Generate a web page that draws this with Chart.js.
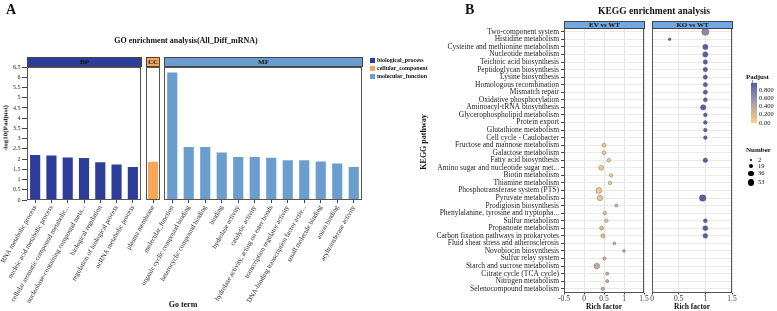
<!DOCTYPE html>
<html>
<head>
<meta charset="utf-8">
<script src="https://cdn.jsdelivr.net/npm/chart.js@4.4.0/dist/chart.umd.min.js"></script>
<style>
body{margin:0;background:#fff;}
#fig{position:relative;width:777px;height:311px;overflow:hidden;font-family:"Liberation Serif",serif;color:#111;background:#fff;}
#fig canvas{position:absolute;left:0;top:0;}
.t{position:absolute;white-space:nowrap;font-weight:bold;line-height:1;}
.c{transform:translate(-50%,-50%);}
.strip{position:absolute;box-sizing:border-box;border:1px solid #444;font-weight:bold;text-align:center;color:#111;}
.sw{position:absolute;width:5px;height:5px;}
.lg{position:absolute;white-space:nowrap;font-size:6px;font-weight:bold;line-height:1;transform:translateY(-50%);}
</style>
</head>
<body>
<div id="fig">
  <canvas id="bp" width="777" height="311"></canvas>
  <canvas id="cc" width="777" height="311"></canvas>
  <canvas id="mf" width="777" height="311"></canvas>
  <canvas id="ev" width="777" height="311"></canvas>
  <canvas id="ko" width="777" height="311"></canvas>

  <div class="t" style="left:6px;top:3px;font-size:14px;">A</div>
  <div class="t c" style="left:186px;top:41px;font-size:8px;">GO enrichment analysis(All_Diff_mRNA)</div>
  <div class="strip" style="left:27px;top:57px;width:115px;height:10px;background:#2D3E9A;font-size:7px;line-height:8px;">BP</div>
  <div class="strip" style="left:146px;top:57px;width:14px;height:10px;background:#F9A65A;font-size:7px;line-height:8px;">CC</div>
  <div class="strip" style="left:164px;top:57px;width:199px;height:10px;background:#6B9ECF;font-size:7px;line-height:8px;">MF</div>
  <div class="sw" style="left:370px;top:57.5px;background:#2D3E9A;"></div>
  <div class="sw" style="left:370px;top:65.5px;background:#F9A65A;"></div>
  <div class="sw" style="left:370px;top:73.5px;background:#6B9ECF;"></div>
  <div class="lg" style="left:377px;top:60px;">biological_process</div>
  <div class="lg" style="left:377px;top:68px;">cellular_component</div>
  <div class="lg" style="left:377px;top:76px;">molecular_function</div>
  <div class="t" style="left:5.5px;top:128px;font-size:7px;transform:translate(-50%,-50%) rotate(-90deg);">-log10(Padjust)</div>
  <div class="t c" style="left:183px;top:305px;font-size:8px;">Go term</div>

  <div class="t" style="left:465px;top:3px;font-size:14px;">B</div>
  <div class="t c" style="left:654px;top:12px;font-size:9.5px;">KEGG enrichment analysis</div>
  <div class="strip" style="left:564px;top:21px;width:81px;height:8px;background:#72A9E3;font-size:7px;line-height:6px;">EV vs WT</div>
  <div class="strip" style="left:652px;top:21px;width:81px;height:8px;background:#72A9E3;font-size:7px;line-height:6px;">KO vs WT</div>
  <div class="t" style="left:424px;top:142px;font-size:8px;transform:translate(-50%,-50%) rotate(-90deg);">KEGG pathway</div>
  <div class="t c" style="left:604px;top:307px;font-size:7.5px;">Rich factor</div>
  <div class="t c" style="left:692px;top:307px;font-size:7.5px;">Rich factor</div>
  <div id="padjLegend"></div>
  <div id="numLegend"></div>
</div>
<script>
// GO enrichment (-log10 Padjust)
const bpTerms = ['RNA metabolic process', 'nucleic acid metabolic process', 'cellular aromatic compound metabolic...',
  'nucleobase-containing compound meta...', 'biological regulation', 'regulation of biological process', 'ncRNA metabolic process'];
const bpValues = [2.23, 2.21, 2.11, 2.09, 1.88, 1.77, 1.64];
const ccTerms = ['plasma membrane'];
const ccValues = [1.9];
const mfTerms = ['molecular_function', 'organic cyclic compound binding', 'heterocyclic compound binding', 'binding',
  'hydrolase activity', 'catalytic activity', 'hydrolase activity, acting on ester bonds', 'transcription regulator activity',
  'DNA-binding transcription factor activ...', 'small molecule binding', 'anion binding', 'acyltransferase activity'];
const mfValues = [6.27, 2.62, 2.62, 2.35, 2.14, 2.13, 2.1, 1.97, 1.97, 1.91, 1.82, 1.65];

// KEGG enrichment
const pathways = ['Two-component system', 'Histidine metabolism', 'Cysteine and methionine metabolism', 'Nucleotide metabolism',
  'Teichoic acid biosynthesis', 'Peptidoglycan biosynthesis', 'Lysine biosynthesis', 'Homologous recombination',
  'Mismatch repair', 'Oxidative phosphorylation', 'Aminoacyl-tRNA biosynthesis', 'Glycerophospholipid metabolism',
  'Protein export', 'Glutathione metabolism', 'Cell cycle - Caulobacter', 'Fructose and mannose metabolism',
  'Galactose metabolism', 'Fatty acid biosynthesis', 'Amino sugar and nucleotide sugar met...', 'Biotin metabolism',
  'Thiamine metabolism', 'Phosphotransferase system (PTS)', 'Pyruvate metabolism', 'Prodigiosin biosynthesis',
  'Phenylalanine, tyrosine and tryptopha...', 'Sulfur metabolism', 'Propanoate metabolism',
  'Carbon fixation pathways in prokaryotes', 'Fluid shear stress and atherosclerosis', 'Novobiocin biosynthesis',
  'Sulfur relay system', 'Starch and sucrose metabolism', 'Citrate cycle (TCA cycle)', 'Nitrogen metabolism',
  'Selenocompound metabolism'];
const _ = null;
const evRich = [_, _, _, _, _, _, _, _, _, _, _, _, _, _, _,
  0.50, 0.50, 0.62, 0.43, 0.68, 0.65, 0.37, 0.40, 0.81, 0.52, 0.56, 0.44, 0.47, 0.76, 1.00, 0.51, 0.32, 0.58, 0.58, 0.47];
const evCount = [_, _, _, _, _, _, _, _, _, _, _, _, _, _, _,
  12, 12, 10, 26, 7, 9, 45, 34, 5, 9, 9, 14, 14, 4, 3, 7, 40, 6, 6, 8];
const evPadj = [_, _, _, _, _, _, _, _, _, _, _, _, _, _, _,
  0.05, 0.05, 0.06, 0.07, 0.07, 0.08, 0.08, 0.08, 0.3, 0.14, 0.14, 0.16, 0.16, 0.32, 0.35, 0.3, 0.33, 0.34, 0.34, 0.34];
const koRich = [1.00, 0.33, 1.00, 1.00, 1.00, 1.00, 1.00, 1.00, 1.00, 1.00, 0.96, 1.00, 1.00, 1.00, 1.00,
  _, _, 1.00, _, _, _, _, 0.95, _, _, 1.00, 1.00, 1.00, _, _, _, _, _, _, _];
const koCount = [75, 3, 32, 32, 20, 20, 19, 18, 17, 15, 35, 12, 12, 11, 11,
  _, _, 22, _, _, _, _, 62, _, _, 14, 28, 26, _, _, _, _, _, _, _];
const koPadj = [0.65, 0.95, 0.95, 0.95, 0.95, 0.95, 0.95, 0.95, 0.95, 0.95, 0.95, 0.95, 0.95, 0.95, 0.95,
  _, _, 0.95, _, _, _, _, 0.95, _, _, 0.95, 0.95, 0.95, _, _, _, _, _, _, _];

const padjTicks = [0, 0.2, 0.4, 0.6, 0.8];
const padjMax = 0.97;
const numberBreaks = [2, 19, 36, 53];

// colour and size scales
const padjStops = [[0, [253, 208, 138]], [0.25, [214, 180, 148]], [0.5, [168, 155, 170]], [0.75, [122, 125, 178]], [1, [74, 90, 168]]];
function padjColor(v) {
  for (let i = 1; i < padjStops.length; i++) {
    if (v <= padjStops[i][0]) {
      const a = padjStops[i - 1], b = padjStops[i];
      const t = (v - a[0]) / (b[0] - a[0]);
      const c = a[1].map((x, k) => Math.round(x + (b[1][k] - x) * t));
      return 'rgb(' + c.join(',') + ')';
    }
  }
  return 'rgb(' + padjStops[padjStops.length - 1][1].join(',') + ')';
}
function rad(n) { return 0.8 + 0.32 * Math.sqrt(n); }

Chart.defaults.font.family = '"Liberation Serif", serif';
Chart.defaults.color = '#222';
Chart.defaults.animation = false;
Chart.defaults.responsive = false;
Chart.defaults.plugins.legend.display = false;
Chart.defaults.plugins.tooltip.enabled = false;

// panel border
const frame = {
  id: 'frame',
  afterDraw(chart, args, opts) {
    const a = chart.chartArea, c = chart.ctx;
    c.save();
    c.strokeStyle = opts.color || '#555';
    c.lineWidth = 1;
    c.strokeRect(Math.round(a.left) + 0.5, Math.round(a.top) + 0.5, Math.round(a.right - a.left) - 1, Math.round(a.bottom - a.top) - 1);
    c.restore();
  }
};

function goChart(id, terms, values, color, left, right, withAxis) {
  const yw = withAxis ? 27 : 0;
  new Chart(document.getElementById(id), {
    type: 'bar',
    data: {
      labels: terms,
      datasets: [{data: values, backgroundColor: color, borderColor: 'rgba(255,255,255,0.35)', borderWidth: 1,
        borderSkipped: 'bottom', barThickness: 11.5}]
    },
    options: {
      layout: {padding: {left: left - yw, right: 777 - right, top: 67, bottom: 0}},
      scales: {
        x: {
          grid: {drawOnChartArea: false, offset: false, tickLength: 3, color: '#444'},
          border: {display: false},
          ticks: {autoSkip: false, minRotation: 60, maxRotation: 60, padding: 1, font: {size: 6.8}, color: '#222'},
          afterFit(s) { s.height = 111; s.paddingLeft = 0; s.paddingRight = 0; }
        },
        y: {
          display: withAxis, min: 0, max: 6.5,
          grid: {drawOnChartArea: false, tickLength: 5, color: '#444'},
          border: {display: false},
          ticks: {stepSize: 0.5, padding: 1.5, font: {size: 6}, color: '#222', callback: v => String(v)},
          afterFit(s) { s.width = yw; s.paddingTop = 0; s.paddingBottom = 0; }
        }
      },
      plugins: {frame: {color: '#555'}}
    },
    plugins: [frame]
  });
}

function keggChart(id, rich, count, padj, left, right, xmin, withLabels) {
  const yw = withLabels ? 134 : 0;
  const pts = [];
  pathways.forEach((p, i) => {
    if (rich[i] != null) pts.push({x: rich[i], y: p, n: count[i], q: padj[i]});
  });
  new Chart(document.getElementById(id), {
    type: 'scatter',
    data: {
      datasets: [{
        data: pts,
        pointRadius: ctx => rad(ctx.raw.n),
        backgroundColor: ctx => padjColor(ctx.raw.q),
        borderColor: 'rgba(80,65,60,0.6)',
        borderWidth: 0.6
      }]
    },
    options: {
      layout: {padding: {left: left - yw, right: 777 - right, top: 28, bottom: 0}},
      scales: {
        x: {
          type: 'linear', min: xmin, max: 1.5,
          grid: {color: '#E3E3E3', tickColor: '#444', tickLength: 2},
          border: {display: false},
          ticks: {stepSize: 0.5, padding: 0, font: {size: 7.5}, color: '#333', callback: v => String(v)},
          afterFit(s) { s.height = 18.5; s.paddingLeft = 0; s.paddingRight = 0; }
        },
        y: {
          type: 'category', labels: pathways, offset: true,
          grid: {color: '#EAEAEA', tickColor: '#444', tickLength: 3, drawTicks: withLabels},
          border: {display: false},
          ticks: {display: withLabels, autoSkip: false, padding: 2, font: {size: 7.5}, color: '#222'},
          afterFit(s) { s.width = yw; s.paddingTop = 0; s.paddingBottom = 0; }
        }
      },
      plugins: {frame: {color: '#555'}}
    },
    plugins: [frame]
  });
}

goChart('bp', bpTerms, bpValues, '#2D3E9A', 27, 141, true);
goChart('cc', ccTerms, ccValues, '#F9A65A', 146, 160, false);
goChart('mf', mfTerms, mfValues, '#6B9ECF', 164, 362, false);
keggChart('ev', evRich, evCount, evPadj, 564, 644, -0.5, true);
keggChart('ko', koRich, koCount, koPadj, 652, 732, 0, false);

// Padjust colour bar legend
const barTop = 83, barBottom = 123;
let h = '<div class="t" style="left:746px;top:74px;font-size:7px;">Padjust</div>';
h += '<div class="t" style="left:751px;top:78.5px;font-size:5px;font-weight:normal;">1</div>';
const grad = [];
for (let k = 0; k <= 8; k++) grad.push(padjColor(padjMax * k / 8));
h += '<div style="position:absolute;left:751px;top:' + barTop + 'px;width:6px;height:' + (barBottom - barTop) +
  'px;background:linear-gradient(to top,' + grad.join(',') + ');"></div>';
padjTicks.forEach(v => {
  const y = barBottom - (barBottom - barTop) * v / padjMax;
  const s = v === 0 ? '0.00' : v.toFixed(3);
  h += '<div class="t" style="left:759px;top:' + (y - 3.5) + 'px;font-size:6.5px;font-weight:normal;">' + s + '</div>';
});
document.getElementById('padjLegend').innerHTML = h;

// Number size legend
const rowY = [160, 166, 173.5, 182.5];
let g = '<div class="t" style="left:746px;top:147px;font-size:7px;">Number</div>';
numberBreaks.forEach((n, i) => {
  const r = rad(n);
  g += '<div style="position:absolute;left:' + (751 - r) + 'px;top:' + (rowY[i] - r) + 'px;width:' + (2 * r) +
    'px;height:' + (2 * r) + 'px;border-radius:50%;background:#000;"></div>';
  g += '<div class="t" style="left:758px;top:' + (rowY[i] - 3.5) + 'px;font-size:6.5px;font-weight:normal;">' + n + '</div>';
});
document.getElementById('numLegend').innerHTML = g;
</script>
</body>
</html>
